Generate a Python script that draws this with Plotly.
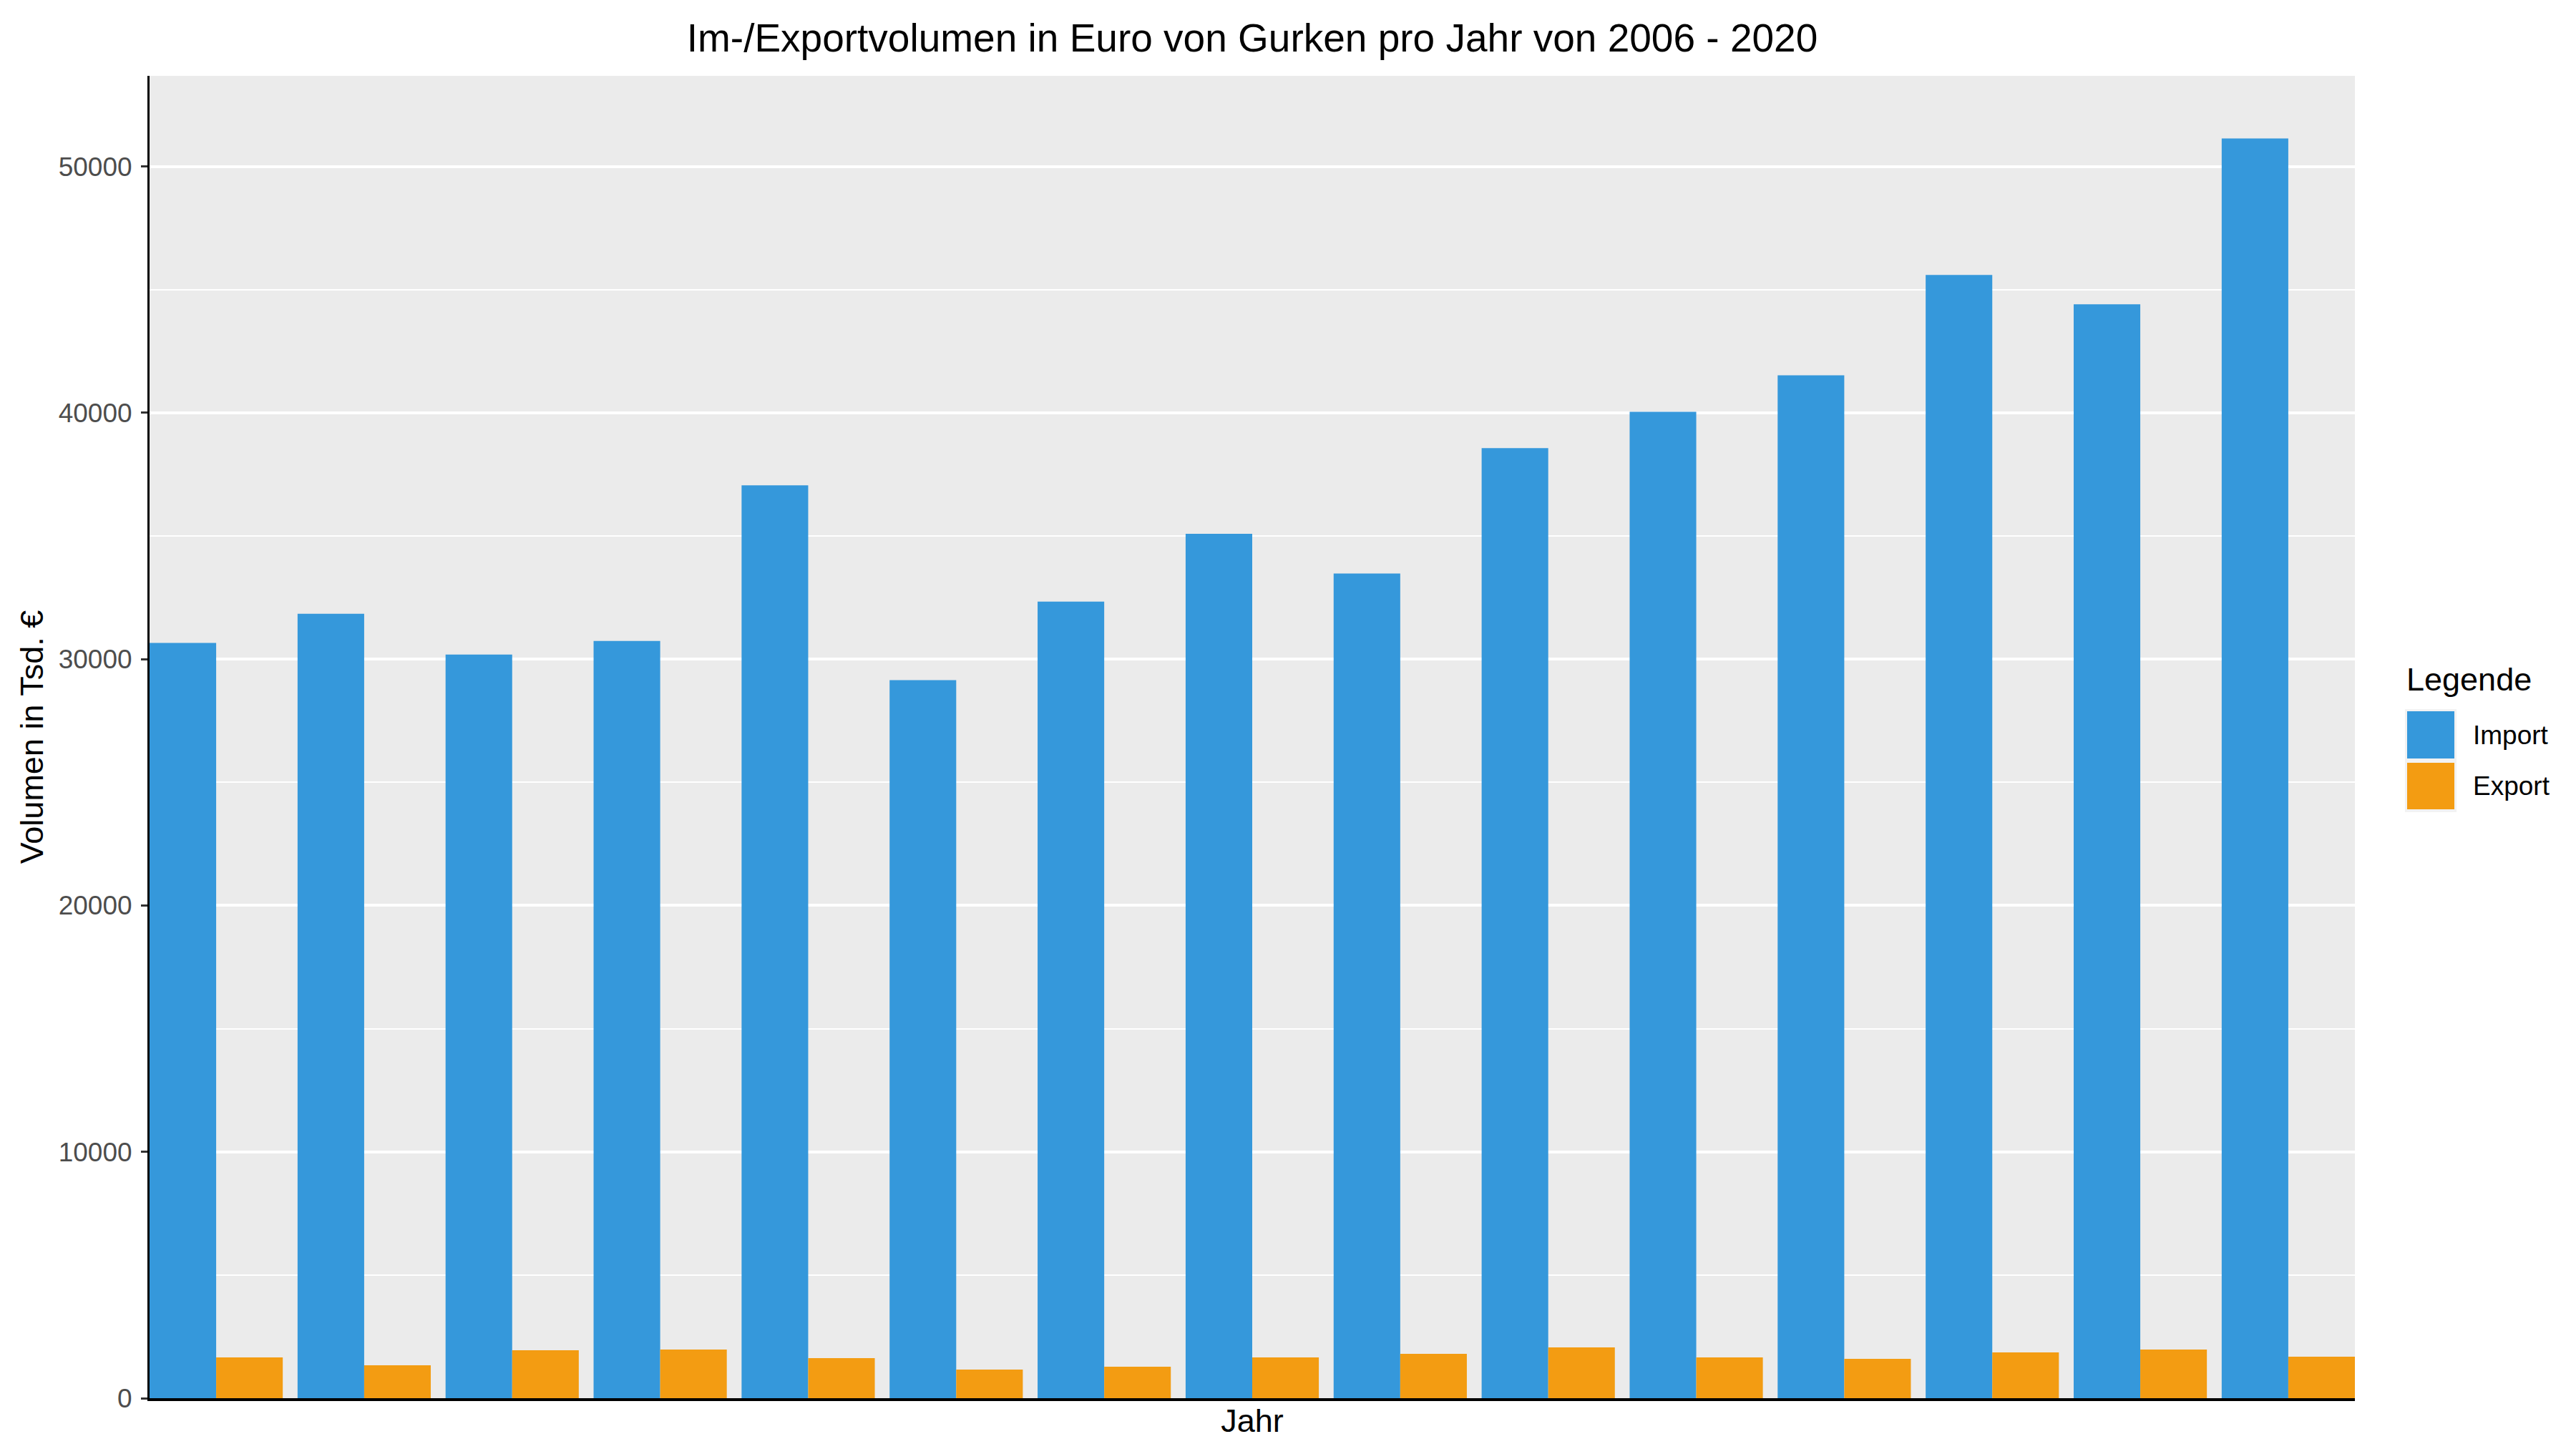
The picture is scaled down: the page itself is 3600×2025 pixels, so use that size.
import plotly.graph_objects as go

# Werte in Tsd. Euro
jahre = [str(j) for j in range(2006, 2021)]
import_vol = [30660, 31840, 30190, 30740, 37060, 29150, 32340, 35090,
              33480, 38570, 40040, 41520, 45600, 44410, 51140]
export_vol = [1655, 1336, 1946, 1975, 1626, 1162, 1278, 1655,
              1800, 2062, 1655, 1597, 1859, 1975, 1684]
serien = ["Import", "Export"]
farben = {"Import": "#3598db", "Export": "#f39c12"}

W, H = 3600, 2025
L, R, T, B = 201, 317, 98, 79
FONT = "Liberation Sans"


def px(x):
    return (x - L) / (W - L - R)


def py(y):
    return (H - B - y) / (H - T - B)


fig = go.Figure()
for name, werte in zip(serien, [import_vol, export_vol]):
    fig.add_trace(go.Bar(
        x=jahre, y=werte, name=name,
        marker=dict(color=farben[name], line=dict(width=0)),
        showlegend=False,
    ))

# Legende nachgebaut wie bei ggplot
shapes = [dict(type="rect", xref="paper", yref="paper",
               x0=px(3353), x1=px(3425), y0=py(983), y1=py(1127),
               fillcolor="#f2f2f2", line=dict(width=0), layer="above")]
annos = [dict(text="Legende", xref="paper", yref="paper", x=px(3353), y=py(941),
              xanchor="left", yanchor="middle", showarrow=False,
              font=dict(size=45, color="black", family=FONT))]
key_y = [(986, 1052), (1058, 1123)]
for name, (y0, y1) in zip(serien, key_y):
    shapes.append(dict(type="rect", xref="paper", yref="paper",
                       x0=px(3356), x1=px(3422), y0=py(y0), y1=py(y1),
                       fillcolor=farben[name], line=dict(width=0), layer="above"))
    annos.append(dict(text=name, xref="paper", yref="paper",
                      x=px(3446), y=py((y0 + y1) / 2),
                      xanchor="left", yanchor="middle", showarrow=False,
                      font=dict(size=37, color="black", family=FONT)))

fig.update_layout(
    width=W, height=H,
    margin=dict(l=L, r=R, t=T, b=B, autoexpand=False),
    barmode="group", bargap=0.1, bargroupgap=0,
    plot_bgcolor="#ebebeb", paper_bgcolor="white",
    font=dict(family=FONT, color="black"),
    title=dict(text="Im-/Exportvolumen in Euro von Gurken pro Jahr von 2006 - 2020",
               x=0.5, xref="paper", xanchor="center",
               y=1 - 45 / H, yref="container", yanchor="middle",
               font=dict(size=55, color="black", family=FONT)),
    shapes=shapes, annotations=annos,
)

fig.update_xaxes(
    type="category", range=[-0.45, 14.45],
    showticklabels=False, ticks="", showgrid=False, zeroline=False,
    showline=True, linecolor="black", linewidth=4,
    title=dict(text="Jahr", standoff=13, font=dict(size=45, color="black", family=FONT)),
    automargin=False,
)
fig.update_yaxes(
    range=[0, 53680], dtick=10000, tickformat="d",
    showgrid=True, gridcolor="white", gridwidth=4, zeroline=False,
    minor=dict(dtick=5000, showgrid=True, gridcolor="white", gridwidth=2, ticks=""),
    ticks="outside", ticklen=9, tickwidth=3, tickcolor="#333333",
    ticklabelstandoff=5,
    tickfont=dict(size=37, color="#4d4d4d", family=FONT),
    showline=True, linecolor="black", linewidth=3,
    title=dict(text="Volumen in Tsd. €", standoff=7,
               font=dict(size=45, color="black", family=FONT)),
    automargin=False,
)

fig.write_html("out.html")
